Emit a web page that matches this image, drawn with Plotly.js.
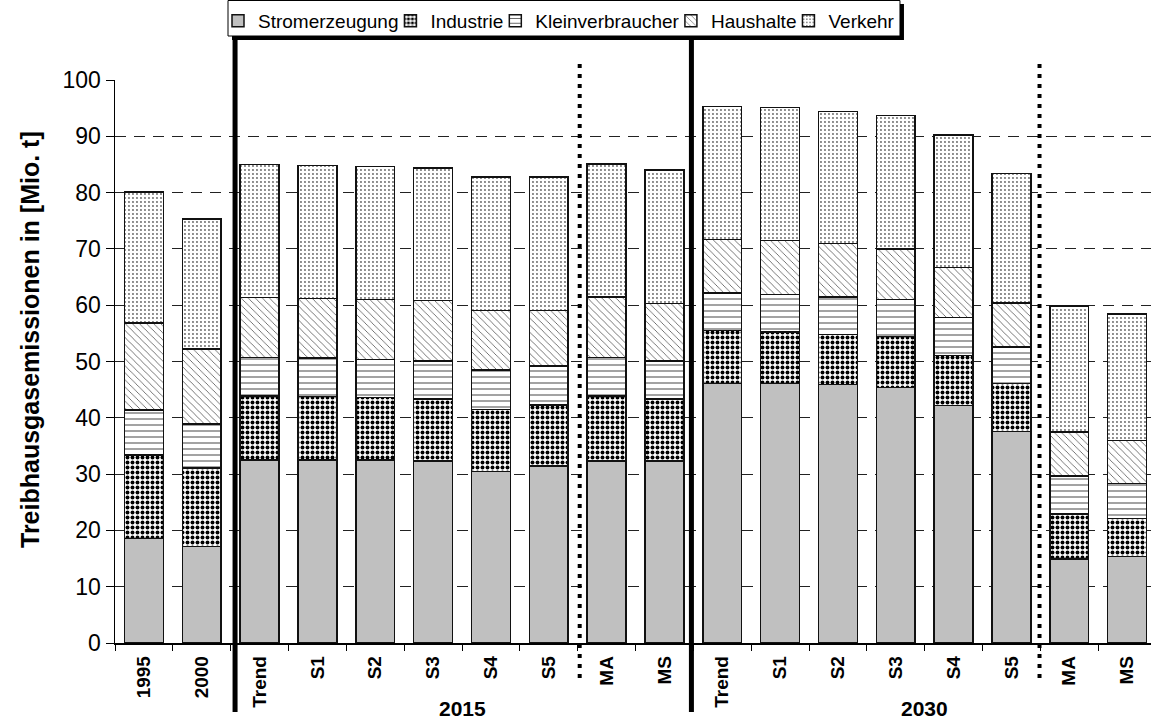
<!DOCTYPE html>
<html>
<head>
<meta charset="utf-8">
<script src="https://cdn.plot.ly/plotly-3.0.1.min.js"></script>
<style>
html, body { margin:0; padding:0; overflow:hidden; background:#fff; }
#chart { width:1160px; height:722px; }
</style>
</head>
<body>
<div id="chart"></div>
<script>
// Category ids (unique) and their tick labels
const categoryIds = ["1995","2000",
  "2015 Trend","2015 S1","2015 S2","2015 S3","2015 S4","2015 S5","2015 MA","2015 MS",
  "2030 Trend","2030 S1","2030 S2","2030 S3","2030 S4","2030 S5","2030 MA","2030 MS"];
const tickLabels = ["1995","2000","Trend","S1","S2","S3","S4","S5","MA","MS",
  "Trend","S1","S2","S3","S4","S5","MA","MS"];
const groupLabels = ["2015","2030"];
const yTitle = "Treibhausgasemissionen in [Mio. t]";
const seriesNames = ["Stromerzeugung","Industrie","Kleinverbraucher","Haushalte","Verkehr"];

// Segment values in Mio. t
const stromerzeugung   = [18.6,17.1, 32.5,32.5,32.5,32.3,30.5,31.4,32.3,32.3, 46.1,46.1,45.9,45.4,42.2,37.6,14.9,15.4];
const industrie        = [14.8,14.0, 11.4,11.3,11.1,11.0,11.0,10.9,11.6,11.0,  9.4, 9.1, 8.9, 9.0, 8.9, 8.5, 8.0, 6.7];
const kleinverbraucher = [ 8.0, 7.8,  6.8, 6.8, 6.8, 6.8, 7.0, 6.9, 6.8, 6.8,  6.7, 6.7, 6.7, 6.6, 6.7, 6.5, 6.8, 6.2];
const haushalte        = [15.4,13.3, 10.7,10.6,10.6,10.7,10.6, 9.9,10.8,10.2,  9.5, 9.6, 9.5, 9.0, 8.9, 7.8, 7.8, 7.7];
const verkehr          = [23.3,23.1, 23.6,23.6,23.6,23.6,23.7,23.7,23.6,23.7, 23.6,23.6,23.4,23.7,23.5,23.0,22.4,22.4];

const yTickVals = [0,10,20,30,40,50,60,70,80,90,100];

const FONT = "Liberation Sans, Arial, sans-serif";
const outline = {color:"#111", width:1.5};

// ---- geometry (pixels) ----
const W = 1160, H = 722, ML = 115, MR = 4, MT = 80, MB = 79;
const PW = W - ML - MR, PH = H - MT - MB;
const pxX = p => (p - ML) / PW;           // pixel -> paper x
const pxY = p => 1 - (p - MT) / PH;       // pixel -> paper y

// ---- legend: one legend per series, packed tightly (Arial/Liberation metrics) ----
const ADV = {S:667,t:278,r:333,o:556,m:833,e:556,z:500,u:556,g:556,n:556,I:278,d:556,s:500,i:222,
             K:667,l:222,v:500,b:556,a:556,c:500,h:556,H:722,V:667,k:500};
const textWidth = (str, size) => str.split("").reduce((a, ch) => a + (ADV[ch] || 556), 0) * size / 1000;
const LEG_FONT = 19;
const boxLeft = 228, boxTop = 0, boxBottom = 36, legTop = 2, itemGap = 6;
const legendIds = seriesNames.map((n, i) => i === 0 ? "legend" : "legend" + (i + 1));
const legendLayouts = {};
let symCenter = boxLeft + 10, textEnd = 0;
legendIds.forEach((id, i) => {
  legendLayouts[id] = {x:pxX(symCenter - 20), xanchor:"left", y:pxY(legTop), yanchor:"top",
    bgcolor:"rgba(0,0,0,0)", borderwidth:0, font:{size:LEG_FONT, family:FONT, color:"#000"},
    orientation:"h", itemwidth:30};
  textEnd = symCenter + 20 + textWidth(seriesNames[i], LEG_FONT);
  symCenter = textEnd + itemGap + 6;
});
const boxRight = textEnd + 5;

const patterns = [
  null,
  {shape:".", fgcolor:"#000", bgcolor:"#fff", size:5, solidity:0.5},
  {shape:"-", fgcolor:"#222", bgcolor:"#fff", size:6, solidity:0.14},
  {shape:"\\", fgcolor:"#555", bgcolor:"#fff", size:5, solidity:0.16},
  {shape:".", fgcolor:"#666", bgcolor:"#fff", size:4, solidity:0.18}
];
const seriesValues = [stromerzeugung, industrie, kleinverbraucher, haushalte, verkehr];

const traces = seriesNames.map((n, i) => {
  const marker = {color: i === 0 ? "#C0C0C0" : "#ffffff", line:outline};
  if (patterns[i]) marker.pattern = patterns[i];
  return {type:"bar", name:n, x:categoryIds, y:seriesValues[i], marker:marker,
          legend:legendIds[i], hoverinfo:"y+name"};
});

function vline(x, y0, y1, w, dash) {
  return {type:"line", xref:"x", yref:"paper", x0:x, x1:x, y0:y0, y1:y1,
          line:{color:"#000", width:w, dash:dash||"solid"}, layer:"above"};
}

const layout = Object.assign({
  width:W, height:H,
  margin:{l:ML, r:MR, t:MT, b:MB, autoexpand:false},
  paper_bgcolor:"#fff", plot_bgcolor:"#fff",
  font:{family:FONT, color:"#000"},
  barmode:"stack", bargap:0.33,
  showlegend:true,
  xaxis:{type:"category", range:[-0.5,17.5], tickmode:"array", tickvals:categoryIds, ticktext:tickLabels,
         tickangle:-90, tickfont:{size:19, family:FONT, weight:"bold"},
         ticks:"outside", tickson:"boundaries", ticklen:6, tickcolor:"#000", ticklabelstandoff:4,
         showline:true, linecolor:"#000", linewidth:1.5, showgrid:false, fixedrange:true},
  yaxis:{range:[0,100], tickvals:yTickVals, tickfont:{size:23, family:FONT},
         ticks:"outside", ticklen:8, tickcolor:"#000",
         showline:true, linecolor:"#000", linewidth:1.5,
         showgrid:true, gridcolor:"#222", gridwidth:1, griddash:"11px,8px", zeroline:false,
         fixedrange:true},
  shapes:[
    vline(1.576, -0.1226, 1.0746, 5),
    vline(9.467, -0.1226, 1.0746, 5),
    vline(7.535, -0.062, 1.03, 4, "4px,6px"),
    vline(15.486, -0.062, 1.03, 4, "4px,6px"),
    // legend drop shadow and frame
    {type:"rect", xref:"paper", yref:"paper", layer:"above",
     x0:pxX(boxLeft + 4), x1:pxX(boxRight + 4), y0:pxY(boxBottom + 4), y1:pxY(boxTop + 4),
     fillcolor:"#000", line:{width:0}},
    {type:"rect", xref:"paper", yref:"paper", layer:"above",
     x0:pxX(boxLeft), x1:pxX(boxRight), y0:pxY(boxBottom), y1:pxY(boxTop + 0.5),
     fillcolor:"#fff", line:{color:"#000", width:1}}
  ],
  annotations:[
    {text:yTitle, xref:"paper", yref:"paper", x:pxX(30), y:pxY(340), textangle:-90, showarrow:false,
     xanchor:"center", yanchor:"middle", font:{size:25, family:FONT, weight:"bold"}},
    {text:groupLabels[0], xref:"x", yref:"paper", x:5.5, y:pxY(708), showarrow:false,
     font:{size:21, family:FONT, weight:"bold"}, yanchor:"middle"},
    {text:groupLabels[1], xref:"x", yref:"paper", x:13.5, y:pxY(708), showarrow:false,
     font:{size:21, family:FONT, weight:"bold"}, yanchor:"middle"}
  ]
}, legendLayouts);

Plotly.newPlot("chart", traces, layout, {displayModeBar:false, staticPlot:true});
</script>
</body>
</html>
